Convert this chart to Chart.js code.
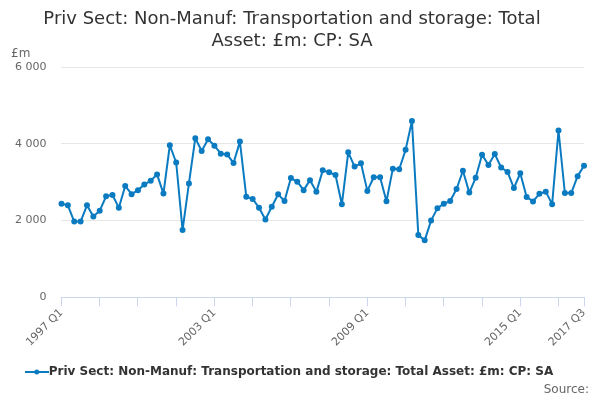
<!DOCTYPE html>
<html lang="en">
<head>
    <meta charset="UTF-8">
    <title>Priv Sect: Non-Manuf: Transportation and storage: Total Asset</title>
    <script src="https://cdn.jsdelivr.net/npm/chart.js"></script>
    <style>
        body { margin: 0; background: #fff; font-family: "DejaVu Sans", sans-serif; }
        #wrap { position: relative; width: 600px; height: 400px; }
        #unit { position: absolute; left: 11px; top: 46px; font-size: 12px; color: #666; }
        #source { position: absolute; right: 11px; top: 382px; font-size: 12px; color: #666; }
    </style>
</head>
<body>
    <div id="wrap">
        <canvas id="chart" width="600" height="400"></canvas>
        <div id="unit">£m</div>
        <div id="source">Source:</div>
    </div>

    <script>
        // quarters 1997 Q1 .. 2017 Q3
        const years = [];
        for (let y = 1997; y <= 2017; y++) years.push(y);
        const quarters = [];
        years.forEach(y => {
            for (let q = 1; q <= 4; q++) {
                if (y === 2017 && q > 3) break;
                quarters.push(y + ' Q' + q);
            }
        });

        const seriesName = 'Priv Sect: Non-Manuf: Transportation and storage: Total Asset: £m: CP: SA';
        // values, £m
        const values = [
            2440, 2400, 1975, 1975, 2400, 2105, 2255, 2635, 2670, 2335,
            2905, 2690, 2795, 2940, 3040, 3205, 2705, 3965, 3515, 1755,
            2970, 4150, 3815, 4120, 3955, 3745, 3725, 3500, 4060, 2625,
            2565, 2335, 2030, 2360, 2685, 2510, 3110, 3015, 2795, 3055,
            2750, 3310, 3260, 3190, 2425, 3780, 3410, 3495, 2775, 3130,
            3130, 2505, 3355, 3340, 3845, 4595, 1625, 1485, 2000, 2325,
            2440, 2510, 2825, 3300, 2730, 3115, 3720, 3450, 3735, 3385,
            3270, 2850, 3235, 2615, 2500, 2700, 2755, 2430, 4350, 2720,
            2720, 3160, 3430
        ];
        const labelled = ['1997 Q1', '2003 Q1', '2009 Q1', '2015 Q1', '2017 Q3'];
        const yTicks = [0, 2000, 4000, 6000];

        const blue = '#0b7bc1';

        // legend symbol: short line with a dot in the middle
        const sym = document.createElement('canvas');
        sym.width = 24; sym.height = 10;
        const sc = sym.getContext('2d');
        sc.strokeStyle = blue; sc.lineWidth = 2;
        sc.beginPath(); sc.moveTo(0, 5); sc.lineTo(24, 5); sc.stroke();
        sc.fillStyle = blue;
        sc.beginPath(); sc.arc(12, 5, 2.5, 0, Math.PI * 2); sc.fill();

        const lastIdx = quarters.length - 1;
        const isTick = i => i % 6 === 0 || i === lastIdx;

        new Chart(document.getElementById('chart'), {
            type: 'line',
            data: {
                labels: quarters,
                datasets: [{
                    label: seriesName,
                    data: values,
                    borderColor: blue,
                    backgroundColor: blue,
                    borderWidth: 2,
                    borderJoinStyle: 'round',
                    pointRadius: 2,
                    pointHoverRadius: 3,
                    pointStyle: 'circle',
                    tension: 0,
                    fill: false
                }]
            },
            options: {
                responsive: false,
                animation: false,
                layout: { padding: { left: 0, right: 16, top: 9, bottom: 12 } },
                plugins: {
                    title: {
                        display: true,
                        text: ['Priv Sect: Non-Manuf: Transportation and storage: Total', 'Asset: £m: CP: SA'],
                        color: '#333',
                        font: { family: 'DejaVu Sans', size: 18, weight: 'normal', lineHeight: 1.2 },
                        padding: { top: 0, bottom: 15 }
                    },
                    legend: {
                        position: 'bottom',
                        labels: {
                            usePointStyle: true,
                            pointStyle: sym,
                            color: '#333',
                            font: { family: 'DejaVu Sans', size: 12, weight: 'bold' },
                            padding: 17,
                            generateLabels: chart => [{
                                text: seriesName,
                                pointStyle: sym,
                                fontColor: '#333',
                                strokeStyle: blue,
                                fillStyle: blue,
                                lineWidth: 0,
                                datasetIndex: 0
                            }]
                        }
                    },
                    tooltip: { enabled: false }
                },
                scales: {
                    x: {
                        offset: false,
                        border: { color: '#ccd6eb', width: 1 },
                        grid: {
                            drawOnChartArea: false,
                            drawTicks: true,
                            tickLength: 9,
                            color: ctx => isTick(ctx.index) ? '#ccd6eb' : 'rgba(0,0,0,0)'
                        },
                        ticks: {
                            autoSkip: false,
                            maxRotation: 45,
                            minRotation: 45,
                            padding: 0,
                            color: '#666',
                            font: { family: 'DejaVu Sans', size: 11 },
                            callback: function (v, i) {
                                const l = quarters[i];
                                return labelled.includes(l) ? l : '';
                            }
                        }
                    },
                    y: {
                        min: 0,
                        max: 6000,
                        afterBuildTicks: axis => { axis.ticks = yTicks.map(v => ({ value: v })); },
                        border: { display: false },
                        grid: { color: '#e6e6e6', drawTicks: false },
                        ticks: {
                            padding: 15,
                            color: '#666',
                            font: { family: 'DejaVu Sans', size: 11 },
                            callback: v => v.toString().replace(/\B(?=(\d{3})+(?!\d))/g, ' ')
                        }
                    }
                }
            }
        });
    </script>
</body>
</html>
